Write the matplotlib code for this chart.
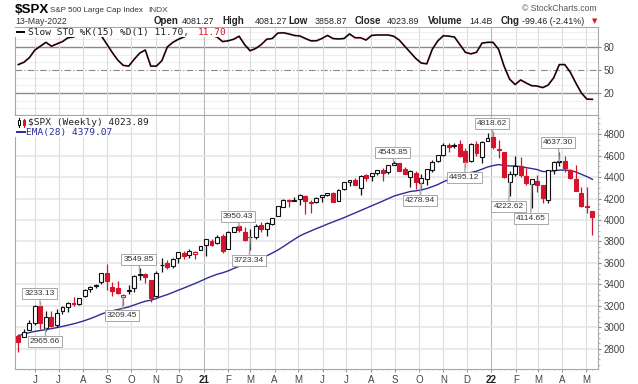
import matplotlib
matplotlib.use('Agg')
import matplotlib.pyplot as plt
import matplotlib.dates as mdates
import matplotlib.transforms as mtransforms
from matplotlib.lines import Line2D
from matplotlib.patches import Rectangle
from matplotlib.ticker import FixedLocator, MultipleLocator
import numpy as np
import pandas as pd

# ---- data (weekly $SPX, May 2020 - May 2022) ----
weeks = pd.date_range('2020-05-11', periods=105, freq='7D')

opens = [
    2915.46, 2913.86, 2969.95, 3038.78, 3199.92, 2993.76, 3094.42, 3018.59, 3155.29, 3191.42,
    3224.29, 3219.84, 3288.26, 3356.04, 3380.86, 3418.09, 3507.44, 3371.88, 3363.56, 3285.57,
    3335.47, 3367.27, 3500.02, 3493.50, 3441.42, 3296.20, 3583.04, 3600.16, 3566.82, 3645.87,
    3694.73, 3675.27, 3684.28, 3723.03, 3764.61, 3803.14, 3781.88, 3851.68, 3731.17, 3892.59,
    3939.61, 3885.55, 3842.51, 3844.39, 3949.57, 3916.48, 3963.34, 4034.44, 4124.71, 4188.25,
    4185.14, 4191.98, 4228.29, 4169.14, 4170.16, 4216.52, 4229.34, 4248.87, 4173.40, 4284.90,
    4356.46, 4372.41, 4296.40, 4416.38, 4406.86, 4437.77, 4461.65, 4450.29, 4513.76, 4535.38,
    4474.81, 4402.95, 4442.12, 4348.84, 4385.44, 4463.72, 4553.69, 4610.62, 4701.48, 4689.30,
    4712.00, 4640.25, 4548.37, 4710.30, 4587.90, 4733.99, 4778.14, 4655.34, 4632.24, 4356.32,
    4431.79, 4505.75, 4412.61, 4332.74, 4363.14, 4327.01, 4188.82, 4462.40, 4541.09, 4547.97,
    4462.64, 4385.63, 4255.34, 4130.61, 4081.27]
highs = [
    2933.68, 2980.29, 3068.67, 3211.72, 3233.13, 3155.53, 3154.90, 3165.81, 3198.59, 3233.52,
    3279.32, 3272.00, 3352.54, 3387.89, 3399.54, 3509.23, 3588.11, 3425.55, 3428.92, 3306.88,
    3397.18, 3486.25, 3549.85, 3502.42, 3441.42, 3529.05, 3645.99, 3628.51, 3644.31, 3699.20,
    3712.39, 3726.70, 3711.24, 3760.20, 3826.69, 3823.60, 3859.75, 3870.90, 3894.56, 3937.23,
    3950.43, 3931.33, 3914.50, 3960.27, 3983.87, 3978.19, 4020.63, 4129.48, 4191.31, 4194.17,
    4218.78, 4238.04, 4236.39, 4188.72, 4213.42, 4233.45, 4249.74, 4257.16, 4286.12, 4355.51,
    4371.60, 4393.68, 4415.18, 4429.97, 4440.82, 4468.00, 4480.26, 4513.33, 4545.85, 4535.38,
    4492.99, 4465.40, 4457.30, 4429.97, 4475.82, 4559.67, 4608.08, 4718.50, 4714.92, 4717.75,
    4743.83, 4672.95, 4713.57, 4731.99, 4740.74, 4808.93, 4818.62, 4748.83, 4632.24, 4453.23,
    4595.31, 4590.03, 4489.55, 4385.04, 4416.78, 4327.01, 4465.40, 4546.03, 4637.30, 4593.45,
    4471.49, 4512.94, 4308.45, 4307.66, 4081.27]
lows = [
    2766.64, 2913.86, 2969.95, 3025.84, 2984.47, 2965.66, 3004.63, 2999.49, 3127.66, 3141.00,
    3200.00, 3204.13, 3284.53, 3327.24, 3363.56, 3403.26, 3349.63, 3293.59, 3313.90, 3209.45,
    3310.47, 3328.67, 3440.45, 3415.86, 3233.94, 3279.74, 3511.91, 3543.84, 3555.72, 3594.73,
    3633.40, 3645.84, 3636.48, 3723.03, 3662.71, 3759.00, 3774.00, 3694.12, 3725.62, 3884.94,
    3884.06, 3805.59, 3723.34, 3819.25, 3885.45, 3853.50, 3955.31, 4034.44, 4124.43, 4118.38,
    4176.01, 4142.23, 4056.88, 4061.41, 4155.02, 4167.59, 4220.34, 4164.40, 4173.40, 4275.75,
    4320.06, 4321.86, 4233.13, 4360.67, 4367.73, 4419.78, 4367.73, 4432.20, 4513.76, 4456.04,
    4427.76, 4305.91, 4288.52, 4278.94, 4329.92, 4447.47, 4537.36, 4595.06, 4630.86, 4672.78,
    4585.43, 4495.12, 4540.51, 4600.22, 4531.10, 4733.99, 4662.74, 4582.24, 4395.34, 4222.62,
    4414.02, 4401.41, 4327.22, 4114.65, 4262.45, 4157.87, 4161.72, 4424.30, 4506.27, 4450.04,
    4381.34, 4267.62, 4124.28, 4062.51, 3858.87]
closes = [
    2863.70, 2955.45, 3044.31, 3193.93, 3041.31, 3097.74, 3009.05, 3130.01, 3185.04, 3224.73,
    3215.63, 3271.12, 3351.28, 3372.85, 3397.16, 3508.01, 3426.96, 3340.97, 3319.47, 3298.46,
    3348.44, 3477.14, 3483.81, 3465.39, 3269.96, 3509.44, 3585.15, 3557.54, 3638.35, 3699.12,
    3663.46, 3709.41, 3703.06, 3756.07, 3824.68, 3768.25, 3841.47, 3714.24, 3886.83, 3934.83,
    3906.71, 3811.15, 3841.94, 3943.34, 3913.10, 3974.54, 4019.87, 4128.80, 4185.47, 4180.17,
    4181.17, 4232.60, 4173.85, 4155.86, 4204.11, 4229.89, 4247.44, 4166.45, 4280.70, 4352.34,
    4369.55, 4327.16, 4411.79, 4395.26, 4436.52, 4468.00, 4441.67, 4509.37, 4535.43, 4458.58,
    4432.99, 4455.48, 4357.04, 4391.34, 4471.37, 4544.90, 4605.38, 4697.53, 4682.85, 4697.96,
    4594.62, 4538.43, 4712.02, 4620.64, 4725.79, 4766.18, 4677.03, 4662.85, 4397.94, 4431.85,
    4500.53, 4418.64, 4348.87, 4384.65, 4328.87, 4204.31, 4463.12, 4543.06, 4545.86, 4488.28,
    4392.59, 4271.78, 4131.93, 4123.34, 4023.89]
prev_close0 = 2929.80  # close of the week before the first candle

ema28 = [
    2922, 2936, 2950, 2962, 2970, 2979, 2987, 2997, 3008, 3020,
    3032, 3046, 3062, 3080, 3100, 3122, 3140, 3153, 3165, 3178,
    3190, 3208, 3226, 3243, 3252, 3268, 3288, 3305, 3325, 3346,
    3366, 3387, 3408, 3430, 3454, 3475, 3494, 3508, 3525, 3548,
    3568, 3584, 3600, 3622, 3642, 3666, 3692, 3720, 3752, 3786,
    3820, 3852, 3876, 3898, 3920, 3940, 3962, 3982, 4002, 4022,
    4044, 4066, 4088, 4110, 4132, 4154, 4176, 4199, 4222, 4238,
    4252, 4266, 4272, 4280, 4293, 4311, 4331, 4356, 4379, 4401,
    4414, 4423, 4443, 4455, 4474, 4494, 4507, 4517, 4509, 4504,
    4504, 4498, 4488, 4480, 4470, 4452, 4452, 4459, 4465, 4466,
    4461, 4448, 4426, 4405, 4379.07]

slow_sto = [
    57, 60, 66, 76, 81, 86, 81, 84, 87, 92,
    93, 96, 97, 98, 97, 95, 84, 73, 63, 56,
    55, 64, 72, 76, 55, 55, 62, 80, 86, 90,
    93, 96, 97, 97, 96, 95, 93, 87, 88, 90,
    94, 83, 75, 78, 83, 90, 91, 98, 98.5, 97,
    95, 94.3, 91, 88, 88, 91, 95, 91, 90.4, 91,
    97, 92, 92, 89, 95, 95.6, 95.6, 95.6, 94, 89,
    81, 73, 65, 59, 58, 77, 88, 94.6, 94, 93,
    83, 73, 71, 73, 85, 86, 86, 77, 55, 38,
    31, 37, 33, 29.5, 29, 27, 30.4, 40, 57, 57,
    47, 33, 20, 12, 11.7]

hi_marks = [4, 22, 40, 68, 86, 98]          # weeks with a labelled high
lo_marks = [5, 19, 42, 73, 81, 89, 93]      # weeks with a labelled low

month_starts = pd.date_range('2020-06-01', '2022-05-01', freq='MS')
month_labels = ['J', 'J', 'A', 'S', 'O', 'N', 'D', '21', 'F', 'M', 'A', 'M',
                'J', 'J', 'A', 'S', 'O', 'N', 'D', '22', 'F', 'M', 'A', 'M']
price_ticks = list(range(2800, 4801, 200))
sto_levels = [0, 10, 30, 40, 60, 70, 90, 100]

# ---- style ----
plt.rcParams['font.family'] = ['Liberation Sans', 'DejaVu Sans']
RED = '#d6132d'
BLUE = '#2c2c96'
GRID = '#dcdcdc'
SPINE = '#a8a8a8'

W, H = 638, 384
fig = plt.figure(figsize=(W / 100, H / 100), dpi=100)
fig.patch.set_facecolor('white')


def fx(x):
    return x / W


def fy(y):
    return 1 - y / H


ax_sto = fig.add_axes([fx(15), fy(115), 583 / W, 88 / H])
ax = fig.add_axes([fx(15), fy(369), 583 / W, 254 / H], sharex=ax_sto)

x = mdates.date2num(weeks)
o, h, l, c = (np.array(v, dtype=float) for v in (opens, highs, lows, closes))
prev = np.r_[prev_close0, c[:-1]]
col = np.where(c < prev, RED, '#111111')
face = np.where(c < o, col, '#ffffff')

# ---- price panel ----
ax.vlines(x, l, h, colors=col, lw=0.9, zorder=3)
ax.bar(x, np.maximum(np.abs(c - o), 2.0), width=5.0, bottom=np.minimum(o, c),
       color=face, edgecolor=col, linewidth=0.8, zorder=4)
ax.plot(x, ema28, color=BLUE, lw=1.0, zorder=2)

up = mtransforms.offset_copy(ax.transData, fig, x=-1, y=9, units='dots')
down = mtransforms.offset_copy(ax.transData, fig, x=-1, y=-10.6, units='dots')
box = dict(boxstyle='square,pad=0.25', fc='white', ec='#a8a8a8', lw=0.7)
arrow = dict(arrowstyle='-', color='#a8a8a8', lw=1.0, shrinkA=0, shrinkB=0)
for i in hi_marks:
    ax.annotate(f'{highs[i]:.2f}', xy=(x[i], max(o[i], c[i])), xytext=(x[i], highs[i]),
                textcoords=up, ha='center', va='center', fontsize=6, color='#333333',
                bbox=box, arrowprops=arrow, zorder=6)
for i in lo_marks:
    ax.annotate(f'{lows[i]:.2f}', xy=(x[i], min(o[i], c[i])), xytext=(x[i], lows[i]),
                textcoords=down, ha='center', va='center', fontsize=6, color='#333333',
                bbox=box, arrowprops=arrow, zorder=6)

ax.set_ylim(2611, 4979)
ax.set_xlim(x[0] - 4.2, x[-1] + 7.1)
ax.yaxis.tick_right()
ax.set_yticks(price_ticks)
ax.yaxis.set_minor_locator(MultipleLocator(50))
ax.tick_params(axis='y', which='major', length=2.5, pad=1.5, labelsize=7, colors='#888888',
               labelcolor='#444444')
ax.tick_params(axis='y', which='minor', length=1.5, colors='#aaaaaa')
ax.grid(axis='y', color='#e4e4e4', lw=1.1, zorder=0)

ax.xaxis.set_major_locator(FixedLocator(mdates.date2num(month_starts)))
ax.xaxis.set_minor_locator(FixedLocator(x))
ax.set_xticklabels(month_labels)
ax.tick_params(axis='x', which='major', length=2, pad=2.5, labelsize=7, colors='#999999',
               labelcolor='#444444')
ax.tick_params(axis='x', which='minor', length=1, colors='#bbbbbb')
for lbl in ax.get_xticklabels():
    if lbl.get_text() in ('21', '22'):
        lbl.set_fontweight('bold')
        lbl.set_color('#222222')
ax.grid(axis='x', color=GRID, lw=0.8, zorder=0)
for gl, lbl in zip(ax.get_xgridlines(), month_labels):
    if lbl in ('21', '22'):
        gl.set_color('#b8b8b8')
ax.set_axisbelow(True)
for s in ax.spines.values():
    s.set_color(SPINE)
    s.set_linewidth(0.8)

# ---- slow stochastic panel ----
ax_sto.hlines(sto_levels, x[0] - 10, x[-1] + 10, colors='#efefef', lw=0.8, zorder=0)
ax_sto.axhline(80, color='#8a8a8a', lw=1.0, zorder=1)
ax_sto.axhline(20, color='#8a8a8a', lw=1.0, zorder=1)
ax_sto.axhline(50, color='#8a8a8a', lw=0.8, ls=(0, (6, 2, 1, 2)), zorder=1)
ax_sto.plot(x, slow_sto, color=RED, lw=1.4, alpha=0.5, zorder=2)
ax_sto.plot(x, slow_sto, color='black', lw=1.0, zorder=3)
ax_sto.set_ylim(-8.7, 106)
ax_sto.yaxis.tick_right()
ax_sto.set_yticks([20, 50, 80])
ax_sto.tick_params(axis='y', length=2.5, pad=1.5, labelsize=7, colors='#888888',
                   labelcolor='#444444')
ax_sto.tick_params(axis='x', which='both', length=0, labelbottom=False)
ax_sto.grid(axis='x', color=GRID, lw=0.8, zorder=0)
for gl, lbl in zip(ax_sto.get_xgridlines(), month_labels):
    if lbl in ('21', '22'):
        gl.set_color('#b8b8b8')
for s in ax_sto.spines.values():
    s.set_color(SPINE)
    s.set_linewidth(0.8)

# ---- legends inside panels ----
fig.add_artist(Rectangle((fx(15.5), fy(36.8)), 207 / W, 9.3 / H, transform=fig.transFigure,
                         fc='white', ec='none', zorder=2))
fig.add_artist(Line2D([fx(17), fx(24)], [fy(32), fy(32)], color='black', lw=1.4, zorder=3))
fig.text(fx(28.3), fy(32.3), 'Slow STO %K(15) %D(1) 11.70,', family='DejaVu Sans Mono',
         fontsize=6.8, color='#222222', va='center', zorder=3)
fig.text(fx(198), fy(32.3), '11.70', family='DejaVu Sans Mono', fontsize=6.8, color=RED,
         va='center', zorder=3)

fig.add_artist(Rectangle((fx(15.5), fy(127)), 137 / W, 11.3 / H, transform=fig.transFigure,
                         fc='white', ec='none', zorder=2))
fig.add_artist(Rectangle((fx(15.5), fy(137)), 81 / W, 10 / H, transform=fig.transFigure,
                         fc='white', ec='none', zorder=2))
fig.add_artist(Line2D([fx(19)] * 2, [fy(117.5), fy(126.5)], color='black', lw=0.8, zorder=3))
fig.add_artist(Rectangle((fx(17.6), fy(125)), 2.8 / W, 5.5 / H, transform=fig.transFigure,
                         fc='white', ec='black', lw=0.7, zorder=3))
fig.add_artist(Line2D([fx(24)] * 2, [fy(118.5), fy(126.5)], color=RED, lw=0.8, zorder=3))
fig.add_artist(Rectangle((fx(22.6), fy(124.5)), 2.8 / W, 4.5 / H, transform=fig.transFigure,
                         fc=RED, ec=RED, lw=0.7, zorder=3))
fig.text(fx(28.5), fy(122.3), '$SPX (Weekly) 4023.89', family='DejaVu Sans Mono',
         fontsize=6.8, color='#222222', va='center', zorder=3)
fig.add_artist(Line2D([fx(17), fx(25)], [fy(132), fy(132)], color=BLUE, lw=1.4, zorder=3))
fig.text(fx(26.5), fy(132.2), 'EMA(28) 4379.07', family='DejaVu Sans Mono',
         fontsize=6.8, color=BLUE, va='center', zorder=3)

# ---- header ----
fig.text(fx(15), fy(13.3), '$SPX', fontsize=9.6, weight='bold', color='black', va='baseline')
fig.text(fx(49.5), fy(12.5), 'S&P 500 Large Cap Index', fontsize=5.8,
         color='#333333', va='baseline')
fig.text(fx(148), fy(12.5), 'INDX', fontsize=6.0, color='#444444', va='baseline')
fig.text(fx(597), fy(10.8), '\u00a9 StockCharts.com', fontsize=6.2, color='#555555',
         ha='right', va='baseline')
fig.text(fx(15), fy(23.5), '13-May-2022', fontsize=6.3, color='#333333', va='baseline')

header = [('Open', 153.3, True), ('4081.27', 181.7, False), ('High', 222.7, True),
          ('4081.27', 255, False), ('Low', 288.3, True), ('3858.87', 315, False),
          ('Close', 354.7, True), ('4023.89', 386.3, False), ('Volume', 428, True),
          ('14.4B', 469.7, False), ('Chg', 500.7, True), ('-99.46 (-2.41%)', 522, False)]
for txt, xp, bold in header:
    fig.text(fx(xp), fy(23.5), txt, fontsize=7.0 if bold else 6.4,
             weight='bold' if bold else 'normal', color='#222222', va='baseline')
fig.text(fx(591.5), fy(23), '\u25bc', family='DejaVu Sans', fontsize=5, color=RED,
         va='baseline')

fig.savefig('out.png', dpi=100, facecolor='white')
